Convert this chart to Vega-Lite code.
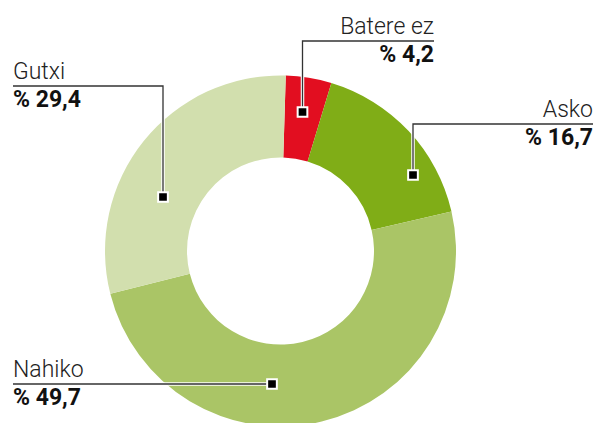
{
  "$schema": "https://vega.github.io/schema/vega-lite/v6.json",
  "width": 595,
  "height": 423,
  "autosize": {"type": "none"},
  "padding": 0,
  "background": "white",
  "config": {"view": {"stroke": null}, "font": "Roboto"},
  "datasets": {
    "zatiak": [
      {"kategoria": "Batere ez", "ehunekoa": 4.2, "ordena": 1},
      {"kategoria": "Asko", "ehunekoa": 16.7, "ordena": 2},
      {"kategoria": "Nahiko", "ehunekoa": 49.7, "ordena": 3},
      {"kategoria": "Gutxi", "ehunekoa": 29.4, "ordena": 4}
    ],
    "lerroak": [
      {"kategoria": "Batere ez", "n": 1, "x": 15.4, "y": 20.9},
      {"kategoria": "Batere ez", "n": 2, "x": 2.25, "y": 20.9},
      {"kategoria": "Batere ez", "n": 3, "x": 2.25, "y": 13.8},
      {"kategoria": "Asko", "n": 1, "x": 31.3, "y": 12.6},
      {"kategoria": "Asko", "n": 2, "x": 13.3, "y": 12.6},
      {"kategoria": "Asko", "n": 3, "x": 13.3, "y": 7.5},
      {"kategoria": "Gutxi", "n": 1, "x": -26.7, "y": 16.4},
      {"kategoria": "Gutxi", "n": 2, "x": -11.7, "y": 16.4},
      {"kategoria": "Gutxi", "n": 3, "x": -11.7, "y": 5.3},
      {"kategoria": "Nahiko", "n": 1, "x": -26.7, "y": -13.4},
      {"kategoria": "Nahiko", "n": 2, "x": -0.8, "y": -13.4}
    ],
    "markak": [
      {"kategoria": "Batere ez", "x": 2.25, "y": 13.8},
      {"kategoria": "Asko", "x": 13.3, "y": 7.5},
      {"kategoria": "Gutxi", "x": -11.7, "y": 5.3},
      {"kategoria": "Nahiko", "x": -0.8, "y": -13.4}
    ],
    "etiketak": [
      {"kategoria": "Batere ez", "balioa": "% 4,2", "x": 15.4, "y": 20.9},
      {"kategoria": "Asko", "balioa": "% 16,7", "x": 31.3, "y": 12.6},
      {"kategoria": "Gutxi", "balioa": "% 29,4", "x": -26.7, "y": 16.4},
      {"kategoria": "Nahiko", "balioa": "% 49,7", "x": -26.7, "y": -13.4}
    ]
  },
  "layer": [
    {
      "data": {"name": "zatiak"},
      "mark": {"type": "arc", "outerRadius": 175.5, "innerRadius": 93.5},
      "encoding": {
        "x": {"datum": 0.05, "type": "quantitative", "scale": {"domain": [-28, 31.5], "nice": false, "zero": false}, "axis": null},
        "y": {"datum": -0.1, "type": "quantitative", "scale": {"domain": [-17.3, 25], "nice": false, "zero": false}, "axis": null},
        "theta": {"field": "ehunekoa", "type": "quantitative", "stack": true, "scale": {"range": [0.03, 6.3132]}},
        "order": {"field": "ordena", "type": "quantitative"},
        "color": {
          "field": "kategoria",
          "type": "nominal",
          "scale": {"domain": ["Batere ez", "Asko", "Nahiko", "Gutxi"], "range": ["#e20e20", "#80ad17", "#aac566", "#d2dfae"]},
          "legend": null
        }
      }
    },
    {
      "data": {"name": "lerroak"},
      "mark": {"type": "line", "color": "white", "strokeWidth": 3.5, "strokeCap": "square"},
      "encoding": {
        "x": {"field": "x", "type": "quantitative"},
        "y": {"field": "y", "type": "quantitative"},
        "detail": {"field": "kategoria"},
        "order": {"field": "n", "type": "quantitative"}
      }
    },
    {
      "data": {"name": "lerroak"},
      "mark": {"type": "line", "color": "#333333", "strokeWidth": 1.3},
      "encoding": {
        "x": {"field": "x", "type": "quantitative"},
        "y": {"field": "y", "type": "quantitative"},
        "detail": {"field": "kategoria"},
        "order": {"field": "n", "type": "quantitative"}
      }
    },
    {
      "data": {"name": "markak"},
      "mark": {"type": "point", "shape": "square", "filled": true, "size": 94, "fill": "black", "stroke": "white", "strokeWidth": 2, "opacity": 1},
      "encoding": {
        "x": {"field": "x", "type": "quantitative"},
        "y": {"field": "y", "type": "quantitative"}
      }
    },
    {
      "data": {"name": "etiketak"},
      "mark": {"type": "text", "font": "Roboto", "fontSize": 23, "fontWeight": 300, "color": "#222222", "baseline": "alphabetic", "dy": -7.5, "align": {"expr": "datum.x > 0 ? 'right' : 'left'"}},
      "encoding": {
        "x": {"field": "x", "type": "quantitative"},
        "y": {"field": "y", "type": "quantitative"},
        "text": {"field": "kategoria"}
      }
    },
    {
      "data": {"name": "etiketak"},
      "mark": {"type": "text", "font": "Roboto", "fontSize": 23, "fontWeight": "bold", "color": "#111111", "baseline": "alphabetic", "dy": 21, "align": {"expr": "datum.x > 0 ? 'right' : 'left'"}},
      "encoding": {
        "x": {"field": "x", "type": "quantitative"},
        "y": {"field": "y", "type": "quantitative"},
        "text": {"field": "balioa"}
      }
    }
  ]
}
